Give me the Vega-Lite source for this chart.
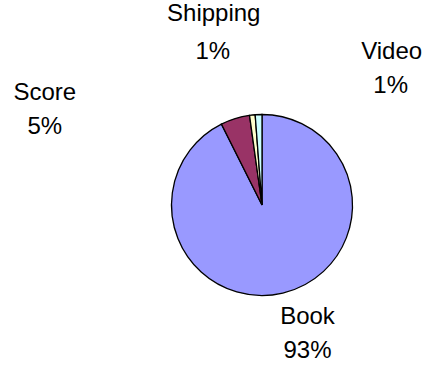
{
  "$schema": "https://vega.github.io/schema/vega-lite/v6.json",
  "width": 200,
  "height": 200,
  "autosize": {"type": "none"},
  "padding": {"left": 162, "top": 105, "right": 66, "bottom": 62},
  "background": "white",
  "config": {"view": {"stroke": null}, "text": {"font": "Liberation Sans", "fontSize": 24, "fill": "black"}},
  "data": {
    "values": [
      {"category": "Book", "share": 0.926},
      {"category": "Score", "share": 0.052},
      {"category": "Shipping", "share": 0.010},
      {"category": "Video", "share": 0.012}
    ]
  },
  "encoding": {
    "theta": {"field": "share", "type": "quantitative", "stack": true},
    "order": {"field": "category", "type": "nominal", "sort": "ascending"}
  },
  "layer": [
    {
      "mark": {"type": "arc", "outerRadius": 90.5, "stroke": "black", "strokeWidth": 1.3},
      "encoding": {
        "color": {
          "field": "category",
          "type": "nominal",
          "scale": {"domain": ["Book", "Score", "Shipping", "Video"], "range": ["#9999FF", "#993366", "#FFFFCC", "#CCFFFF"]},
          "legend": null
        }
      }
    },
    {
      "mark": {
        "type": "text",
        "radius": 115,
        "align": "center",
        "baseline": "middle",
        "dx": {"expr": "datum.category === 'Book' ? 19 : datum.category === 'Score' ? -183 : datum.category === 'Shipping' ? -36 : 134"},
        "dy": {"expr": "datum.category === 'Book' ? 0 : datum.category === 'Score' ? -2 : datum.category === 'Shipping' ? -77 : -38"}
      },
      "encoding": {
        "detail": {"field": "category", "type": "nominal"},
        "text": {"field": "category", "type": "nominal"}
      }
    },
    {
      "mark": {
        "type": "text",
        "radius": 115,
        "align": "center",
        "baseline": "middle",
        "dx": {"expr": "datum.category === 'Book' ? 19 : datum.category === 'Score' ? -183 : datum.category === 'Shipping' ? -37 : 133"},
        "dy": {"expr": "datum.category === 'Book' ? 34 : datum.category === 'Score' ? 32 : datum.category === 'Shipping' ? -39 : -4"}
      },
      "encoding": {
        "detail": {"field": "category", "type": "nominal"},
        "text": {"field": "share", "type": "quantitative", "format": ".0%"}
      }
    }
  ]
}
